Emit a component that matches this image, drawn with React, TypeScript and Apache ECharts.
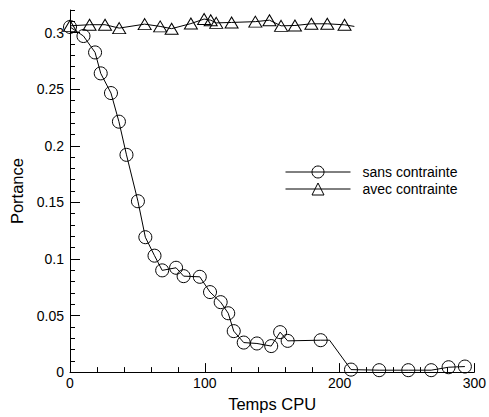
import React, { useEffect, useRef } from "react";
import * as echarts from "echarts";

// "sans contrainte" (circles); hidden index marks a line-only vertex
const sansX = [0, 10, 18.6, 22.8, 30.4, 36.3, 41.9, 50.4, 55.9, 62.7, 68.4, 78.7, 84.3, 96.3, 103.9, 111.8, 117.4, 121.5, 128.9, 138.7, 149.3, 155.9, 161.5, 186, 192.6, 208.5, 229.4, 251, 268, 280.9, 293];
const sansY = [0.305, 0.297, 0.2825, 0.264, 0.2466, 0.2213, 0.192, 0.151, 0.1192, 0.1029, 0.0899, 0.0922, 0.0848, 0.0842, 0.0707, 0.0618, 0.052, 0.0362, 0.0261, 0.0253, 0.023, 0.0353, 0.0276, 0.0282, 0.0282, 0.0022, 0.0017, 0.0017, 0.0017, 0.0043, 0.0049];
const sansHidden = [24];

// "avec contrainte" (triangles)
const avecX = [0, 14.5, 26, 36.5, 55.4, 66.9, 75.4, 89.7, 99.5, 104.4, 108.5, 119.9, 137.5, 148, 156.6, 166.9, 179.1, 190.9, 203.7, 211];
const avecY = [0.306, 0.307, 0.307, 0.304, 0.3075, 0.3055, 0.3035, 0.308, 0.312, 0.311, 0.3086, 0.309, 0.3097, 0.311, 0.306, 0.3063, 0.3078, 0.3078, 0.3069, 0.3055];
const avecHidden = [19];

const seriesNames = ["sans contrainte", "avec contrainte"];
const yMajorTicks = [0, 0.05, 0.1, 0.15, 0.2, 0.25, 0.3];
const xTitle = "Temps CPU";
const yTitle = "Portance";

const FONT = "'Liberation Sans', Arial, sans-serif";

function build(xs: number[], ys: number[], hidden: number[]) {
  return xs.map((x, i) =>
    hidden.includes(i) ? { value: [x, ys[i]], symbol: "none" } : { value: [x, ys[i]] }
  );
}

export default function App() {
  const ref = useRef<HTMLDivElement>(null);
  useEffect(() => {
    if (!ref.current) return;
    const chart = echarts.init(ref.current, undefined, { renderer: "svg" });
    const markerStyle = {
      color: "rgba(255,255,255,0)",
      borderColor: "#000",
      borderWidth: 1,
    };
    chart.setOption({
      animation: false,
      backgroundColor: "#fff",
      textStyle: { fontFamily: FONT },
      grid: { left: 70, right: 12, top: 10, bottom: 36 },
      legend: {
        orient: "vertical",
        left: 285,
        top: 165,
        itemWidth: 65,
        itemHeight: 15,
        itemGap: 3,
        padding: 0,
        data: seriesNames,
        lineStyle: { color: "#000", width: 1 },
        itemStyle: { color: "rgba(255,255,255,0)", borderColor: "#000", borderWidth: 1 },
        formatter: "{t|{name}}",
        textStyle: {
          fontSize: 14,
          color: "#000",
          fontFamily: FONT,
          rich: { t: { fontSize: 14, color: "#000", fontFamily: FONT, padding: [0, 0, 0, 7] } },
        },
      },
      xAxis: {
        type: "value",
        min: 0,
        max: 300,
        interval: 100,
        name: xTitle,
        nameLocation: "middle",
        nameGap: 16,
        nameTextStyle: { fontSize: 16.5, color: "#000", fontFamily: FONT },
        axisLine: { show: true, lineStyle: { color: "#000", width: 1 } },
        axisTick: { show: true, inside: true, length: 9, lineStyle: { color: "#000" } },
        minorTick: { show: true, splitNumber: 5, length: 5, lineStyle: { color: "#000" } },
        axisLabel: { fontSize: 14, color: "#000", margin: 4, fontFamily: FONT },
        splitLine: { show: false },
      },
      yAxis: [
        {
          type: "value",
          min: 0,
          max: 0.32,
          interval: 0.01,
          axisLine: { show: true, onZero: false, lineStyle: { color: "#000", width: 1 } },
          axisTick: { show: true, inside: true, length: 5, lineStyle: { color: "#000" } },
          axisLabel: { show: false },
          splitLine: { show: false },
        },
        {
          type: "value",
          min: 0,
          max: 0.32,
          position: "left",
          name: yTitle,
          nameLocation: "middle",
          nameGap: 37,
          nameTextStyle: { fontSize: 16.5, color: "#000", fontFamily: FONT },
          axisLine: { show: false },
          axisTick: { show: true, inside: true, length: 10, customValues: yMajorTicks, lineStyle: { color: "#000" } },
          axisLabel: { fontSize: 14, color: "#000", margin: 6, customValues: yMajorTicks, fontFamily: FONT },
          splitLine: { show: false },
        },
      ],
      series: [
        {
          name: seriesNames[0],
          type: "line",
          data: build(sansX, sansY, sansHidden),
          symbol: "circle",
          symbolSize: 13,
          showAllSymbol: true,
          lineStyle: { color: "#000", width: 1 },
          itemStyle: markerStyle,
        },
        {
          name: seriesNames[1],
          type: "line",
          data: build(avecX, avecY, avecHidden),
          symbol: "triangle",
          symbolSize: [13, 11],
          showAllSymbol: true,
          lineStyle: { color: "#000", width: 1 },
          itemStyle: markerStyle,
        },
      ],
    });
    return () => chart.dispose();
  }, []);
  return (
    <div
      ref={ref}
      style={{ position: "absolute", left: 0, top: 0, width: 489, height: 417, background: "#fff" }}
    />
  );
}
